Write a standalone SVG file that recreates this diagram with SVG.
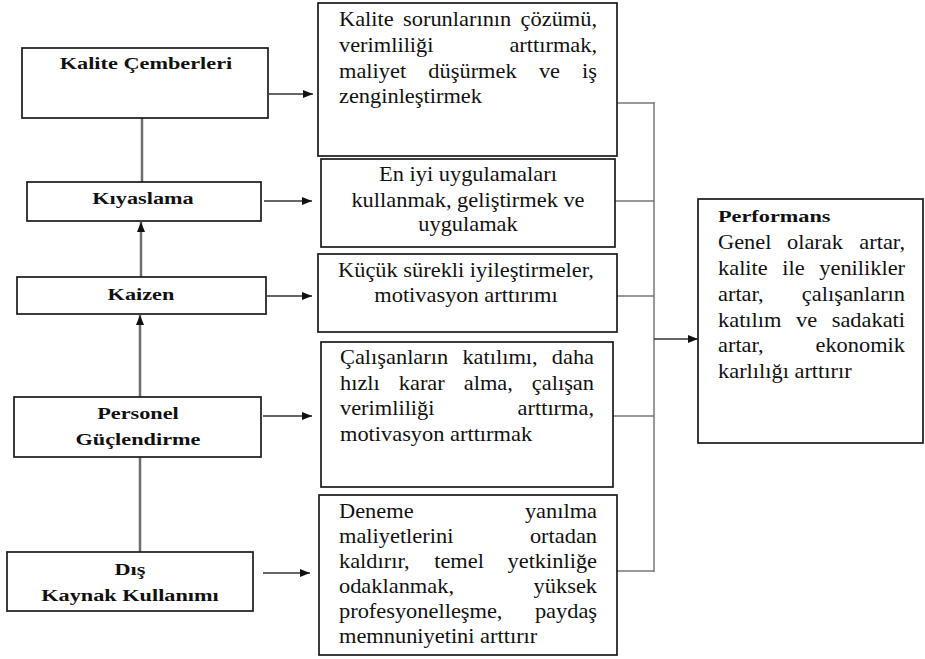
<svg xmlns="http://www.w3.org/2000/svg" width="925" height="659" viewBox="0 0 925 659">
<style>
.box{fill:#fff;stroke:#1a1a1a;stroke-width:1.7}
.b{font-family:'Liberation Serif','Times New Roman',serif;font-weight:bold;font-size:16.5px;fill:#111;text-anchor:middle}
.bl{font-family:'Liberation Serif','Times New Roman',serif;font-weight:bold;font-size:16.5px;fill:#111}
.r{font-family:'Liberation Serif','Times New Roman',serif;font-size:20px;fill:#111}
.c{text-anchor:middle}
.e{text-anchor:end}
.vl{stroke:#6e6e6e;stroke-width:2.5;fill:none}
.ha{stroke:#333;stroke-width:1.3;fill:none}
.rc{stroke:#777;stroke-width:1.5;fill:none}
</style>
<defs>
<marker id="ah" markerUnits="userSpaceOnUse" markerWidth="10" markerHeight="8" refX="10" refY="4" orient="auto">
<path d="M0,0 L10,4 L0,8 z" fill="#111"/>
</marker>
</defs>
<rect width="925" height="659" fill="#fff"/>

<g id="connectors">
<line class="vl" x1="142" y1="118" x2="142" y2="182"/>
<line class="vl" x1="141" y1="277" x2="141" y2="222" marker-end="url(#ah)"/>
<line class="vl" x1="140" y1="397" x2="140" y2="315" marker-end="url(#ah)"/>
<line class="vl" x1="140" y1="457" x2="140" y2="552"/>
<line class="ha" x1="269" y1="94" x2="313" y2="94" marker-end="url(#ah)"/>
<line class="ha" x1="264" y1="201" x2="312" y2="201" marker-end="url(#ah)"/>
<line class="ha" x1="267" y1="296" x2="312" y2="296" marker-end="url(#ah)"/>
<line class="ha" x1="263" y1="416" x2="312" y2="416" marker-end="url(#ah)"/>
<line class="ha" x1="263" y1="573" x2="310" y2="573" marker-end="url(#ah)"/>
<line class="rc" x1="617" y1="103" x2="654" y2="103"/>
<line class="rc" x1="615" y1="201" x2="654" y2="201"/>
<line class="rc" x1="617" y1="296" x2="654" y2="296"/>
<line class="rc" x1="613" y1="416" x2="654" y2="416"/>
<line class="rc" x1="617" y1="571" x2="654" y2="571"/>
<line class="rc" x1="654" y1="102" x2="654" y2="572"/>
<line class="ha" x1="654" y1="339" x2="698" y2="339" marker-end="url(#ah)"/>
</g>

<g id="kalite-cemberleri">
<rect class="box" x="22" y="48" width="246" height="70"/>
<text class="b" x="146" y="69" transform="matrix(1.35 0 0 1 -51.1 0)">Kalite Çemberleri</text>
</g>

<g id="kiyaslama">
<rect class="box" x="27" y="182" width="234" height="39"/>
<text class="b" x="143" y="204" transform="matrix(1.35 0 0 1 -50.05 0)">Kıyaslama</text>
</g>

<g id="kaizen">
<rect class="box" x="17" y="277" width="249" height="37"/>
<text class="b" x="141" y="300" transform="matrix(1.35 0 0 1 -49.35 0)">Kaizen</text>
</g>

<g id="personel-guclendirme">
<rect class="box" x="14" y="397" width="247" height="60"/>
<g transform="matrix(1.35 0 0 1 -48.3 0)">
<text class="b" x="138" y="419">Personel</text>
<text class="b" x="138" y="445">Güçlendirme</text>
</g>
</g>

<g id="dis-kaynak-kullanimi">
<rect class="box" x="7" y="552" width="246" height="59"/>
<g transform="matrix(1.35 0 0 1 -45.5 0)">
<text class="b" x="130" y="575">Dış</text>
<text class="b" x="130" y="601">Kaynak Kullanımı</text>
</g>
</g>

<g id="kalite-sonuc">
<rect class="box" x="318" y="3" width="299" height="153"/>
<g transform="matrix(1.12 0 0 1 -40.68 0)">
<text class="r" x="339" y="26">Kalite</text>
<text class="r" x="396.2" y="26">sorunlarının</text>
<text class="r e" x="569.4" y="26">çözümü,</text>
<text class="r" x="339" y="52">verimliliği</text>
<text class="r e" x="569.4" y="52">arttırmak,</text>
<text class="r" x="339" y="78">maliyet</text>
<text class="r" x="418.8" y="78">düşürmek</text>
<text class="r" x="517.5" y="78">ve</text>
<text class="r e" x="569.4" y="78">iş</text>
<text class="r" x="339" y="103">zenginleştirmek</text>
</g>
</g>

<g id="kiyaslama-sonuc">
<rect class="box" x="321" y="159" width="294" height="88"/>
<g transform="matrix(1.12 0 0 1 -56.16 0)">
<text class="r c" x="468" y="181">En iyi uygulamaları</text>
<text class="r c" x="468" y="207">kullanmak, geliştirmek ve</text>
<text class="r c" x="468" y="231">uygulamak</text>
</g>
</g>

<g id="kaizen-sonuc">
<rect class="box" x="318" y="254" width="299" height="78"/>
<g transform="matrix(1.12 0 0 1 -55.92 0)">
<text class="r c" x="466" y="277">Küçük sürekli iyileştirmeler,</text>
<text class="r c" x="466" y="302">motivasyon arttırımı</text>
</g>
</g>

<g id="personel-sonuc">
<rect class="box" x="321" y="342" width="292" height="145"/>
<g transform="matrix(1.12 0 0 1 -40.8 0)">
<text class="r" x="340" y="364">Çalışanların</text>
<text class="r" x="449.3" y="364">katılımı,</text>
<text class="r e" x="566.8" y="364">daha</text>
<text class="r" x="340" y="390">hızlı</text>
<text class="r" x="392.5" y="390">karar</text>
<text class="r" x="450.5" y="390">alma,</text>
<text class="r e" x="566.8" y="390">çalışan</text>
<text class="r" x="340" y="415">verimliliği</text>
<text class="r e" x="566.8" y="415">arttırma,</text>
<text class="r" x="340" y="441">motivasyon arttırmak</text>
</g>
</g>

<g id="dis-kaynak-sonuc">
<rect class="box" x="319" y="495" width="298" height="160"/>
<g transform="matrix(1.12 0 0 1 -40.68 0)">
<text class="r" x="339" y="518">Deneme</text>
<text class="r e" x="569.4" y="518">yanılma</text>
<text class="r" x="339" y="543">maliyetlerini</text>
<text class="r e" x="569.4" y="543">ortadan</text>
<text class="r" x="339" y="568">kaldırır,</text>
<text class="r" x="424" y="568">temel</text>
<text class="r e" x="569.4" y="568">yetkinliğe</text>
<text class="r" x="339" y="593">odaklanmak,</text>
<text class="r e" x="569.4" y="593">yüksek</text>
<text class="r" x="339" y="618">profesyonelleşme,</text>
<text class="r e" x="569.4" y="618">paydaş</text>
<text class="r" x="339" y="643">memnuniyetini arttırır</text>
</g>
</g>

<g id="performans">
<rect class="box" x="698" y="199" width="225" height="244"/>
<text class="bl" x="718" y="222" transform="matrix(1.35 0 0 1 -251.3 0)">Performans</text>
<g transform="matrix(1.12 0 0 1 -86.16 0)">
<text class="r" x="718" y="249">Genel</text>
<text class="r" x="779.6" y="249">olarak</text>
<text class="r e" x="885" y="249">artar,</text>
<text class="r" x="718" y="275">kalite</text>
<text class="r" x="775.4" y="275">ile</text>
<text class="r e" x="885" y="275">yenilikler</text>
<text class="r" x="718" y="301">artar,</text>
<text class="r e" x="885" y="301">çalışanların</text>
<text class="r" x="718" y="327">katılım</text>
<text class="r" x="787.7" y="327">ve</text>
<text class="r e" x="885" y="327">sadakati</text>
<text class="r" x="718" y="352">artar,</text>
<text class="r e" x="885" y="352">ekonomik</text>
<text class="r" x="718" y="378">karlılığı arttırır</text>
</g>
</g>
</svg>
